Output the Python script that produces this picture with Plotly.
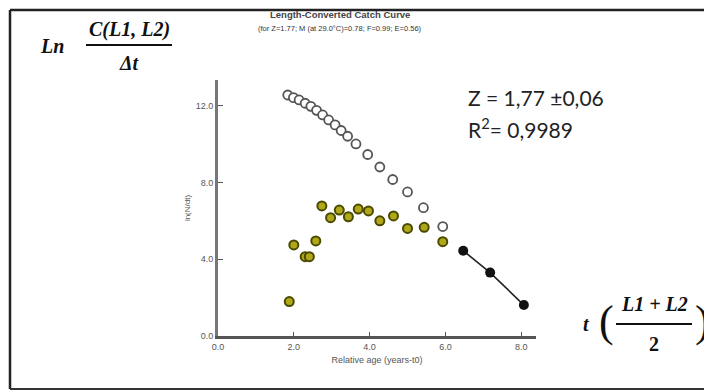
import plotly.graph_objects as go

# Open circles: all points (not used in fit)
open_age = [1.84, 1.99, 2.14, 2.30, 2.45, 2.60, 2.76, 2.92, 3.09, 3.25, 3.42, 3.64, 3.95, 4.27, 4.61, 5.00, 5.42, 5.93]
open_ln = [12.55, 12.41, 12.29, 12.12, 11.96, 11.75, 11.51, 11.25, 10.99, 10.70, 10.40, 10.00, 9.45, 8.80, 8.15, 7.50, 6.68, 5.70]

# Yellow points
yel_age = [1.88, 2.00, 2.30, 2.41, 2.58, 2.74, 2.97, 3.20, 3.44, 3.70, 3.97, 4.27, 4.63, 5.00, 5.44, 5.93]
yel_ln = [1.79, 4.74, 4.13, 4.13, 4.95, 6.77, 6.16, 6.56, 6.21, 6.61, 6.51, 6.00, 6.25, 5.60, 5.66, 4.91]

# Points used in regression
fit_age = [6.47, 7.18, 8.07]
fit_ln = [4.44, 3.30, 1.61]

x_ticks = [0, 2, 4, 6, 8]
x_labels = ["0.0", "2.0", "4.0", "6.0", "8.0"]
y_ticks = [0, 4, 8, 12]
y_labels = ["0.0", "4.0", "8.0", "12.0"]

OFF = 8  # page body margin
fig = go.Figure()
fig.add_trace(go.Scatter(x=open_age, y=open_ln, mode="markers",
                         marker=dict(size=9, color="white", line=dict(color="#555555", width=1.8)),
                         showlegend=False, cliponaxis=False))
fig.add_trace(go.Scatter(x=yel_age, y=yel_ln, mode="markers",
                         marker=dict(size=9, color="#b0a818", line=dict(color="#4a4a00", width=2)),
                         showlegend=False, cliponaxis=False))
fig.add_trace(go.Scatter(x=fit_age, y=fit_ln, mode="lines+markers",
                         line=dict(color="#222222", width=1.6),
                         marker=dict(size=10, color="#111111"),
                         showlegend=False, cliponaxis=False))

font = "Liberation Sans, Arial, sans-serif"
serif = "Liberation Serif, DejaVu Serif, serif"

L, R, T, B = 218 - OFF, 536 - OFF, 80 - OFF, 336 - OFF
W, H = 712 - OFF, 392 - OFF

fig.update_layout(
    width=W, height=H,
    margin=dict(l=L, r=W - R, t=T, b=H - B),
    paper_bgcolor="white", plot_bgcolor="white",
    font=dict(family=font, color="#444444", size=9),
    xaxis=dict(range=[0, 8.39], tickvals=x_ticks, ticktext=x_labels,
               showgrid=False, zeroline=False, showline=True, linecolor="#555555", linewidth=3,
               ticks="inside", ticklen=4, tickcolor="#555555", tickfont=dict(size=9, color="#555555"),
               title=dict(text="Relative age (years-t0)", font=dict(size=9, color="#555555"), standoff=6)),
    yaxis=dict(range=[0, 13.33], tickvals=y_ticks, ticktext=y_labels,
               showgrid=False, zeroline=False, showline=True, linecolor="#777777", linewidth=3,
               ticks="inside", ticklen=5, tickcolor="#555555", tickfont=dict(size=9, color="#555555"),
               title=dict(text="ln(N/dt)", font=dict(size=8, color="#555555"), standoff=4)),
)

def px(xp): return (xp - OFF - L) / (R - L)
def py(yp): return (B - (yp - OFF)) / (B - T)

ann = []
def A(text, x, y, size, color="#222222", family=font, xa="center"):
    ann.append(dict(text=text, x=px(x), y=py(y), xref="paper", yref="paper", showarrow=False,
                    xanchor=xa, yanchor="middle",
                    font=dict(size=size, color=color, family=family)))

A("<b>Length-Converted Catch Curve</b>", 340, 14, 9.5, "#444444")
A("(for Z=1.77; M (at 29.0°C)=0.78; F=0.99; E=0.56)", 340, 28, 7.5, "#333333")
A("Z = 1,77 ±0,06", 466, 97, 21, "#222222", "Lato, Open Sans, sans-serif", "left")
A("R<sup>2</sup>= 0,9989", 466, 128, 21, "#222222", "Lato, Open Sans, sans-serif", "left")

# top-left formula
A("<b><i>Ln</i></b>", 52, 46, 20, "#111111", serif)
A("<b><i>C(L1, L2)</i></b>", 129, 29, 20, "#111111", serif)
A("<b><i>Δt</i></b>", 129, 63, 20, "#111111", serif)
# bottom-right formula
A("<b><i>t</i></b>", 586, 324, 20, "#111111", serif)
A("(", 606, 321, 44, "#111111", serif)
A(")", 702, 321, 44, "#111111", serif)
A("<b><i>L1 + L2</i></b>", 654, 304, 20, "#111111", serif)
A("<b>2</b>", 654, 344, 20, "#111111", serif)

fig.update_layout(annotations=ann)

def seg(x0, y0, x1, y1, w=2, c="#111111"):
    return dict(type="line", xref="paper", yref="paper", x0=px(x0), x1=px(x1), y0=py(y0), y1=py(y1),
                line=dict(color=c, width=w))

shapes = [
    seg(86, 45, 172, 45),
    seg(616, 324, 692, 324),
    seg(10, 10, 712, 10, 2.5, "#222222"),
    seg(10, 10, 10, 389, 2.5, "#222222"),
    seg(10, 389, 712, 389, 2, "#333333"),
]
fig.update_layout(shapes=shapes)

fig.write_html("out.html")
